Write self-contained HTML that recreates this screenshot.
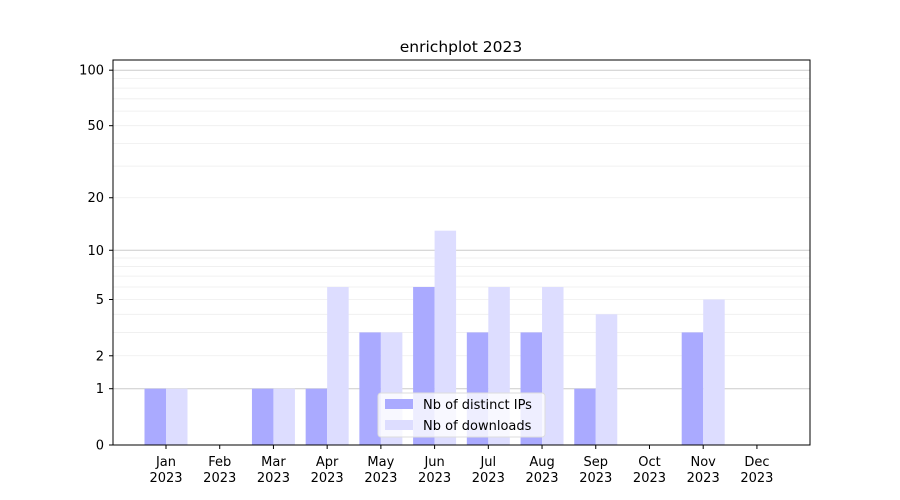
<!DOCTYPE html>
<html><head><meta charset="utf-8"><style>body{margin:0;background:#fff}svg{display:block}text{font-family:"DejaVu Sans","Liberation Sans",sans-serif;font-size:13px;fill:#000}</style></head>
<body>
<svg width="900" height="500" xmlns="http://www.w3.org/2000/svg">
<rect width="900" height="500" fill="#fff"/>
<g id="grid"></g>
<g id="bars"></g>
<rect x="113" y="60" width="697" height="385" fill="none" stroke="#000" stroke-width="1"/>
<g id="ticks"></g>
<text x="461" y="52" text-anchor="middle" style="font-size:15.5px">enrichplot 2023</text>
<g>
<rect x="378" y="393" width="167" height="44" rx="3" fill="#fff" fill-opacity="0.8" stroke="#ddd"/>
<rect x="385" y="399" width="28" height="10" fill="#aaaaff"/>
<text x="423" y="409">Nb of distinct IPs</text>
<rect x="385" y="420" width="28" height="10" fill="#ddddff"/>
<text x="423" y="430">Nb of downloads</text>
</g>
</svg>
<script>
const NS="http://www.w3.org/2000/svg";
function Y(v){return 445-187*Math.log10(1+v);}
function el(p,t,a,txt){const e=document.createElementNS(NS,t);for(const k in a)e.setAttribute(k,a[k]);if(txt!=null)e.textContent=txt;document.getElementById(p).appendChild(e);}
// grid
[2,3,4,5,6,7,8,9,20,30,40,50,60,70,80,90].forEach(v=>el("grid","line",{x1:113,x2:810,y1:Y(v),y2:Y(v),stroke:"#eee","stroke-width":0.8}));
[1,10,100].forEach(v=>el("grid","line",{x1:113,x2:810,y1:Y(v),y2:Y(v),stroke:"#ccc","stroke-width":1}));
const ips=[1,0,1,1,3,6,3,3,1,0,3,0], dl=[1,0,1,6,3,13,6,6,4,0,5,0];
const m=["Jan","Feb","Mar","Apr","May","Jun","Jul","Aug","Sep","Oct","Nov","Dec"];
for(let i=0;i<12;i++){
 const c=166+i*53.72;
 if(ips[i]>0)el("bars","rect",{x:c-21.5,y:Y(ips[i]),width:21.5,height:445-Y(ips[i]),fill:"#aaaaff"});
 if(dl[i]>0)el("bars","rect",{x:c,y:Y(dl[i]),width:21.5,height:445-Y(dl[i]),fill:"#ddddff"});
 el("ticks","line",{x1:c,x2:c,y1:445,y2:449,stroke:"#000"});
 el("ticks","text",{x:c,y:466,"text-anchor":"middle"},m[i]);
 el("ticks","text",{x:c,y:482,"text-anchor":"middle"},"2023");
}
[0,1,2,5,10,20,50,100].forEach(v=>{const y=Y(v);el("ticks","line",{x1:109,x2:113,y1:y,y2:y,stroke:"#000"});el("ticks","text",{x:104,y:y+4.5,"text-anchor":"end"},String(v));});
</script>
</body></html>
